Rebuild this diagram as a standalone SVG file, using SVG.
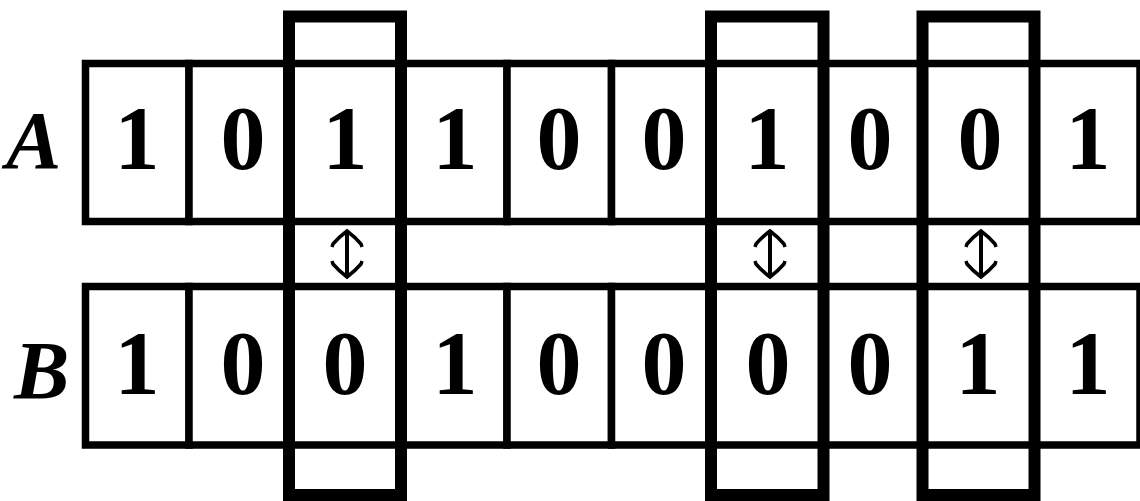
<svg xmlns="http://www.w3.org/2000/svg" width="1140" height="501" viewBox="0 0 1140 501">
  <style>
    .cell { fill: #fff; stroke: #000; stroke-width: 7.5; }
    .digit { font-family: "Liberation Serif", "Times New Roman", Times, serif; font-weight: bold; font-size: 90px; text-anchor: middle; fill: #000; }
    .label { font-family: "Liberation Serif", "Times New Roman", Times, serif; font-weight: bold; font-style: italic; font-size: 83px; fill: #000; }
    .hl { fill: none; stroke: #000; stroke-width: 12; }
    .arrow { fill: none; stroke: #000; stroke-width: 4; }
  </style>
  <defs>
    <marker id="head" viewBox="-18 -18 36 36" markerWidth="36" markerHeight="36" refX="0" refY="0" markerUnits="userSpaceOnUse" orient="auto-start-reverse" overflow="visible">
      <path d="M -16 -15 L -13 -14 Q -6 -8 0 0 Q -6 8 -13 14 L -16 15" fill="none" stroke="#000" stroke-width="3.5"/>
    </marker>
  </defs>
  <rect width="1140" height="501" fill="#fff"/>

  <g id="label-A"><text class="label" x="6" y="168">A</text></g>
  <g id="label-B"><text class="label" x="14" y="398">B</text></g>

  <g id="row-A">
    <g id="A1"><rect class="cell" x="85.5" y="63.5" width="103.5" height="158"/><text class="digit" x="137" y="169">1</text></g>
    <g id="A2"><rect class="cell" x="189" y="63.5" width="100" height="158"/><text class="digit" x="243" y="169">0</text></g>
    <g id="A3"><rect class="cell" x="289" y="63.5" width="112" height="158"/><text class="digit" x="345" y="169">1</text></g>
    <g id="A4"><rect class="cell" x="401" y="63.5" width="106" height="158"/><text class="digit" x="455" y="169">1</text></g>
    <g id="A5"><rect class="cell" x="507" y="63.5" width="104.5" height="158"/><text class="digit" x="559" y="169">0</text></g>
    <g id="A6"><rect class="cell" x="611.5" y="63.5" width="99.5" height="158"/><text class="digit" x="664" y="169">0</text></g>
    <g id="A7"><rect class="cell" x="711" y="63.5" width="112.5" height="158"/><text class="digit" x="767" y="169">1</text></g>
    <g id="A8"><rect class="cell" x="823.5" y="63.5" width="99" height="158"/><text class="digit" x="870" y="169">0</text></g>
    <g id="A9"><rect class="cell" x="922.5" y="63.5" width="112" height="158"/><text class="digit" x="980" y="169">0</text></g>
    <g id="A10"><rect class="cell" x="1034.5" y="63.5" width="105.5" height="158"/><text class="digit" x="1088" y="169">1</text></g>
  </g>

  <g id="row-B">
    <g id="B1"><rect class="cell" x="85.5" y="286.5" width="103.5" height="158.5"/><text class="digit" x="137" y="394">1</text></g>
    <g id="B2"><rect class="cell" x="189" y="286.5" width="100" height="158.5"/><text class="digit" x="243" y="394">0</text></g>
    <g id="B3"><rect class="cell" x="289" y="286.5" width="112" height="158.5"/><text class="digit" x="345" y="394">0</text></g>
    <g id="B4"><rect class="cell" x="401" y="286.5" width="106" height="158.5"/><text class="digit" x="455" y="394">1</text></g>
    <g id="B5"><rect class="cell" x="507" y="286.5" width="104.5" height="158.5"/><text class="digit" x="559" y="394">0</text></g>
    <g id="B6"><rect class="cell" x="611.5" y="286.5" width="99.5" height="158.5"/><text class="digit" x="664" y="394">0</text></g>
    <g id="B7"><rect class="cell" x="711" y="286.5" width="112.5" height="158.5"/><text class="digit" x="768" y="394">0</text></g>
    <g id="B8"><rect class="cell" x="823.5" y="286.5" width="99" height="158.5"/><text class="digit" x="870" y="394">0</text></g>
    <g id="B9"><rect class="cell" x="922.5" y="286.5" width="112" height="158.5"/><text class="digit" x="978" y="394">1</text></g>
    <g id="B10"><rect class="cell" x="1034.5" y="286.5" width="105.5" height="158.5"/><text class="digit" x="1088" y="394">1</text></g>
  </g>

  <g id="highlights">
    <rect id="hl-3" class="hl" x="289" y="16.5" width="112" height="478.5"/>
    <rect id="hl-7" class="hl" x="711" y="16.5" width="112.5" height="478.5"/>
    <rect id="hl-9" class="hl" x="922.5" y="16.5" width="112" height="478.5"/>
  </g>

  <g id="connectors">
    <line class="arrow" x1="347" y1="277" x2="347" y2="231" marker-start="url(#head)" marker-end="url(#head)"/>
    <line class="arrow" x1="770" y1="277" x2="770" y2="231" marker-start="url(#head)" marker-end="url(#head)"/>
    <line class="arrow" x1="981" y1="277" x2="981" y2="231" marker-start="url(#head)" marker-end="url(#head)"/>
  </g>
</svg>
